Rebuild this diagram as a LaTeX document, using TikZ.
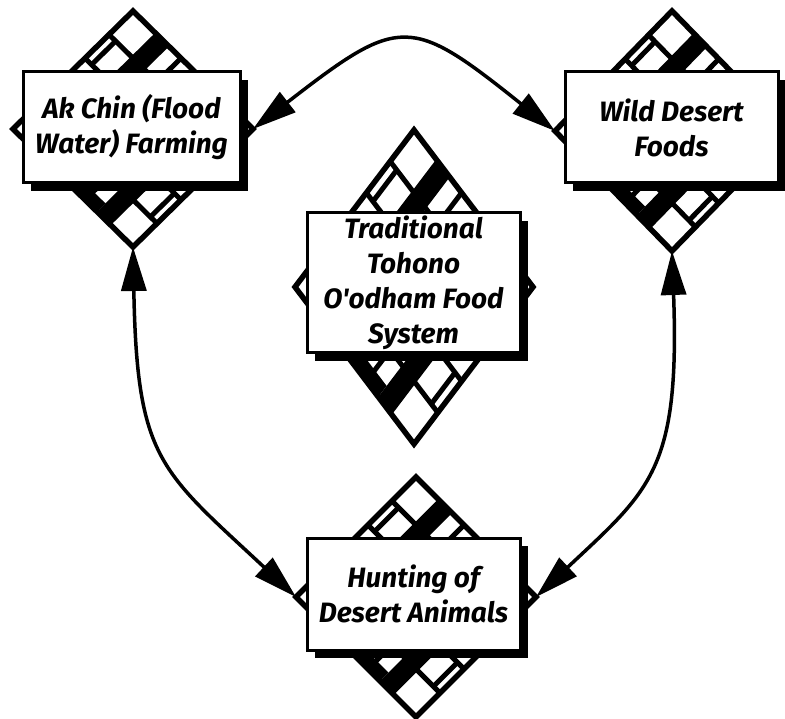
\documentclass[tikz,border=0pt]{standalone}
\usepackage{fontspec}
\newfontfamily\lblfont{Fira Sans}
\usetikzlibrary{arrows.meta,shadows}
\tikzset{
 gridln/.style={line width=5pt},
 rimln/.style={line width=5.5pt, line join=miter},
 boxnode/.style={draw, line width=3pt, fill=white, align=center, inner sep=0pt,
   font=\lblfont\bfseries\itshape\fontsize{28}{35}\selectfont,
   drop shadow={shadow xshift=8pt, shadow yshift=-8pt, opacity=1, fill=black}},
 link/.style={line width=3.5pt, {Triangle[length=44pt,width=25pt]}-{Triangle[length=44pt,width=25pt]}}
}
% #1 cx, #2 cy, #3 half width, #4 half height, #5 name prefix
\newcommand\basket[5]{%
 \coordinate (#5T) at (#1,#2-#4);
 \coordinate (#5B) at (#1,#2+#4);
 \coordinate (#5L) at (#1-#3,#2);
 \coordinate (#5R) at (#1+#3,#2);
 \begin{scope}[shift={(#1,#2-#4)}, x={(-#3pt,-#4pt)}, y={(#3pt,-#4pt)}]
  \fill[white] (0,0)--(1,0)--(1,1)--(0,1)--cycle;
  \fill (0,0.2)--(0.4,0.2)--(0.4,0.3)--(0,0.3)--cycle;
  \fill (1,0.8)--(0.6,0.8)--(0.6,0.7)--(1,0.7)--cycle;
  \fill (1,0.4)--(0.93,0.4)--(0.93,0.7)--(1,0.7)--cycle;
  \foreach \v in {0.2,0.4,0.6,0.8}{\draw[gridln] (\v,0)--(\v,1); \draw[gridln] (0,\v)--(1,\v);}
  \draw[gridln] (0.2,0.055)--(0.4,0.055);
  \draw[gridln] (0.6,0.945)--(0.8,0.945);
  \draw[rimln] (0,0)--(1,0)--(1,1)--(0,1)--cycle;
 \end{scope}}
\begin{document}
\begin{tikzpicture}[x=1pt,y=-1pt]
\useasboundingbox (0,0) rectangle (785,719);
\basket{133}{129}{120}{118}{ak}
\basket{672}{131}{117}{120}{wd}
\basket{414}{287}{119}{157}{tr}
\basket{416}{597}{120}{120}{hu}
\node[boxnode, minimum width=217pt, minimum height=111pt] (akbox) at (131.5,127.5) {Ak Chin (Flood\\Water) Farming};
\node[boxnode, minimum width=213pt, minimum height=111pt] (wdbox) at (671.5,127.5) {Wild Desert\\Foods};
\node[boxnode, minimum width=213pt, minimum height=140pt] (trbox) at (413.5,283) {Traditional\\Tohono\\O'odham Food\\System};
\node[boxnode, minimum width=213pt, minimum height=112pt] (hubox) at (413.5,594) {Hunting of\\Desert Animals};
\draw[link] (akR) .. controls (400,15) and (410,15) .. (wdL);
\draw[link] (akB) .. controls (137,460) and (160,470) .. (huL);
\draw[link] (wdB) .. controls (680,470) and (650,490) .. (huR);
\end{tikzpicture}
\end{document}
